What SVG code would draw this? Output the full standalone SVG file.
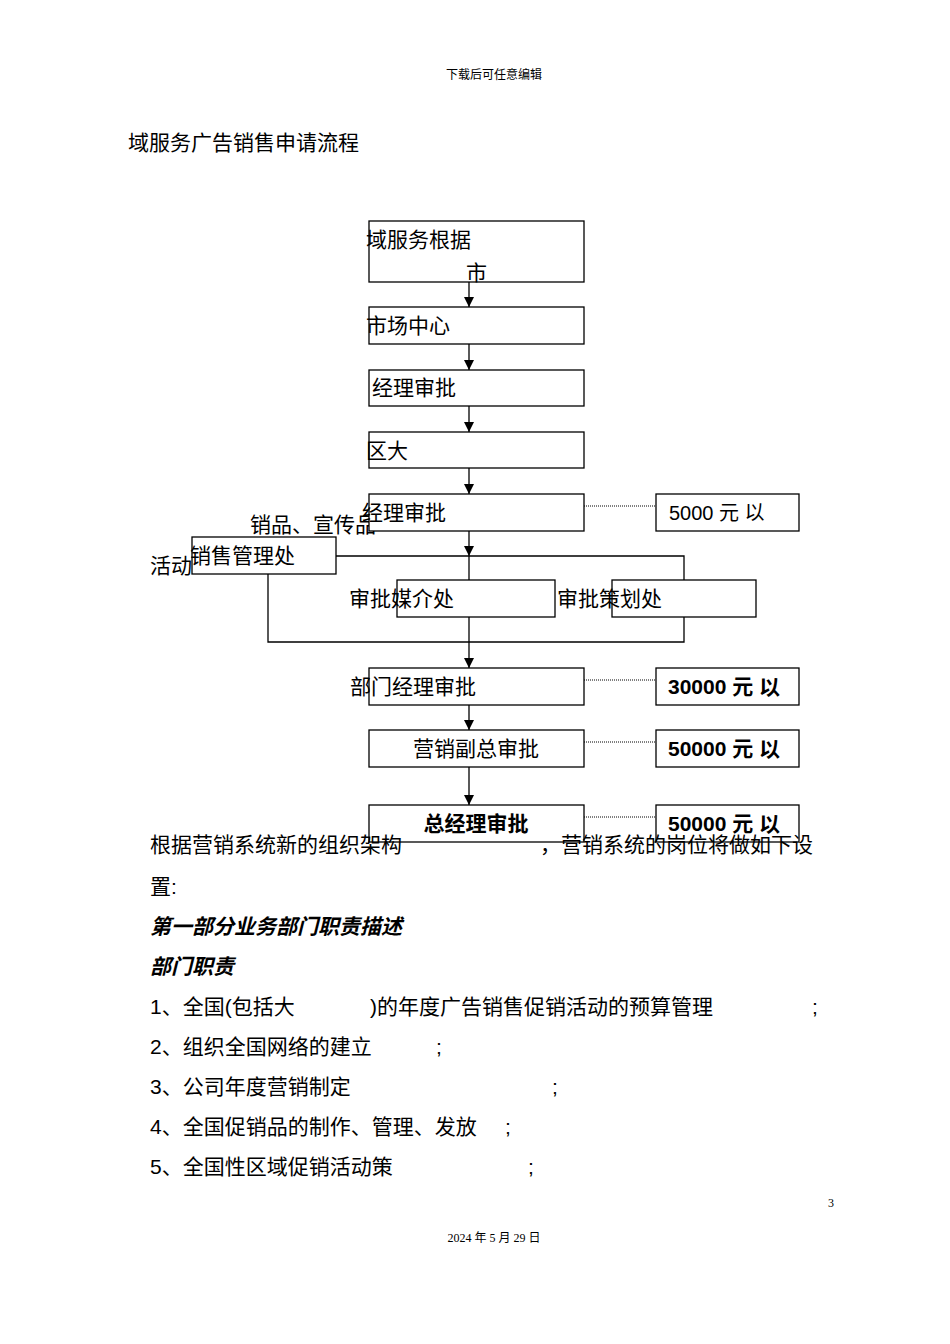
<svg xmlns="http://www.w3.org/2000/svg" width="950" height="1344" viewBox="0 0 950 1344">
<style>
.t{font-family:"Liberation Sans","Noto Sans CJK SC",sans-serif;font-size:21px;fill:#000}
.s{font-family:"Liberation Serif","Noto Sans CJK SC",serif;font-size:12px;fill:#000}
.b{fill:#fff;stroke:#000;stroke-width:1.3}
.l{stroke:#000;stroke-width:1.3;fill:none}
.d{stroke:#000;stroke-width:1;stroke-dasharray:1 1;fill:none}
.bo{font-weight:bold}
.it{font-weight:bold;font-style:italic}
</style>
<defs><marker id="a" markerWidth="10" markerHeight="10" refX="5" refY="10" orient="auto" markerUnits="userSpaceOnUse"><path d="M0,0 L10,0 L5,10 Z" transform="rotate(-90 5 5) translate(0,0)" fill="#000"/></marker>
<marker id="ar" markerWidth="10" markerHeight="12" refX="10" refY="5" orient="auto" markerUnits="userSpaceOnUse"><path d="M0,0 L10,5 L0,10 Z" fill="#000"/></marker></defs>
<text class="s" x="494" y="79" text-anchor="middle">下载后可任意编辑</text>
<text class="t" x="128" y="150">域服务广告销售申请流程</text>
<text class="t" x="250" y="532">销品、宣传品</text>
<text class="t" x="150" y="573">活动</text>
<g id="connectors">
<line class="l" x1="469" y1="282" x2="469" y2="307" marker-end="url(#ar)"/>
<line class="l" x1="469" y1="344" x2="469" y2="370" marker-end="url(#ar)"/>
<line class="l" x1="469" y1="406" x2="469" y2="432" marker-end="url(#ar)"/>
<line class="l" x1="469" y1="468" x2="469" y2="494" marker-end="url(#ar)"/>
<line class="l" x1="469" y1="531" x2="469" y2="556" marker-end="url(#ar)"/>
<polyline class="l" points="336,556 684,556 684,580"/>
<line class="l" x1="469" y1="556" x2="469" y2="580"/>
<polyline class="l" points="268,574 268,642 684,642 684,617"/>
<line class="l" x1="469" y1="617" x2="469" y2="668" marker-end="url(#ar)"/>
<line class="l" x1="469" y1="705" x2="469" y2="730" marker-end="url(#ar)"/>
<line class="l" x1="469" y1="767" x2="469" y2="805" marker-end="url(#ar)"/>
<line class="d" x1="584" y1="506" x2="656" y2="506"/>
<line class="d" x1="584" y1="680" x2="656" y2="680"/>
<line class="d" x1="584" y1="742" x2="656" y2="742"/>
<line class="d" x1="584" y1="817" x2="656" y2="817"/>
</g>
<g id="n1"><rect class="b" x="369" y="221" width="215" height="61"/><text class="t" x="366" y="247">域服务根据</text><text class="t" x="466" y="280">市</text></g>
<g id="n2"><rect class="b" x="369" y="307" width="215" height="37"/><text class="t" x="366" y="333">市场中心</text></g>
<g id="n3"><rect class="b" x="369" y="370" width="215" height="36"/><text class="t" x="372" y="395">经理审批</text></g>
<g id="n4"><rect class="b" x="369" y="432" width="215" height="36"/><text class="t" x="366" y="458">区大</text></g>
<g id="n5"><rect class="b" x="369" y="494" width="215" height="37"/><text class="t" x="362" y="520">经理审批</text></g>
<g id="v1"><rect class="b" x="656" y="494" width="143" height="37"/><text class="t" x="669" y="520" style="font-size:20px">5000  元  以</text></g>
<g id="n6"><rect class="b" x="192" y="537" width="144" height="37"/><text class="t" x="190" y="563">销售管理处</text></g>
<g id="n7"><rect class="b" x="397" y="580" width="158" height="37"/><text class="t" x="349" y="606">审批媒介处</text></g>
<g id="n8"><rect class="b" x="612" y="580" width="144" height="37"/><text class="t" x="557" y="606">审批策划处</text></g>
<g id="n9"><rect class="b" x="369" y="668" width="215" height="37"/><text class="t" x="350" y="694">部门经理审批</text></g>
<g id="v2"><rect class="b" x="656" y="668" width="143" height="37"/><text class="t bo" x="668" y="694">30000 元 以</text></g>
<g id="n10"><rect class="b" x="369" y="730" width="215" height="37"/><text class="t" x="476" y="756" text-anchor="middle">营销副总审批</text></g>
<g id="v3"><rect class="b" x="656" y="730" width="143" height="37"/><text class="t bo" x="668" y="756">50000 元 以</text></g>
<g id="n11"><rect class="b" x="369" y="805" width="215" height="37"/><text class="t bo" x="476" y="831" text-anchor="middle">总经理审批</text></g>
<g id="v4"><rect class="b" x="656" y="805" width="143" height="37"/><text class="t bo" x="668" y="831">50000 元 以</text></g>
<text class="t" x="150" y="852">根据营销系统新的组织架构</text>
<text class="t" x="540" y="852">，营销系统的岗位将做如下设</text>
<text class="t" x="150" y="894">置:</text>
<text class="t it" x="150" y="934">第一部分业务部门职责描述</text>
<text class="t it" x="150" y="974">部门职责</text>
<text class="t" x="150" y="1014">1、全国(包括大</text>
<text class="t" x="370" y="1014">)的年度广告销售促销活动的预算管理</text>
<text class="t" x="812" y="1014">;</text>
<text class="t" x="150" y="1054">2、组织全国网络的建立</text>
<text class="t" x="436" y="1054">;</text>
<text class="t" x="150" y="1094">3、公司年度营销制定</text>
<text class="t" x="552" y="1094">;</text>
<text class="t" x="150" y="1134">4、全国促销品的制作、管理、发放</text>
<text class="t" x="505" y="1134">;</text>
<text class="t" x="150" y="1174">5、全国性区域促销活动策</text>
<text class="t" x="528" y="1174">;</text>
<text class="s" x="831" y="1207" text-anchor="middle">3</text>
<text class="s" x="494" y="1242" text-anchor="middle">2024 年 5 月 29 日</text>
</svg>
